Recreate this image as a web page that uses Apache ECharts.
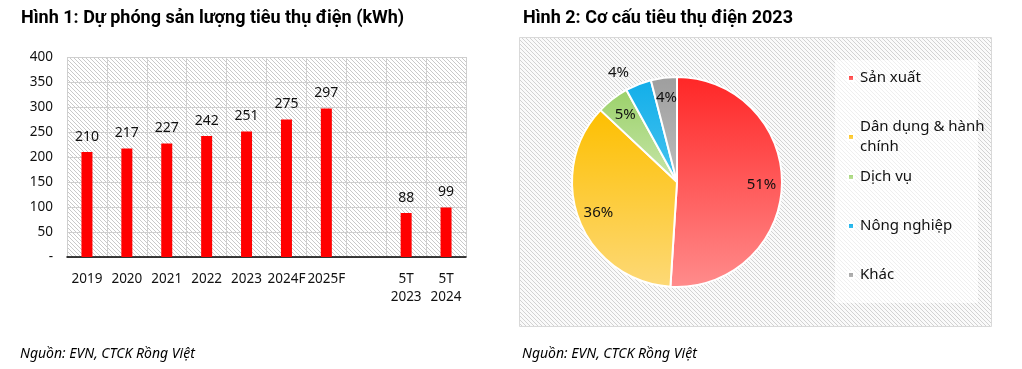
<!DOCTYPE html>
<html>
<head>
<meta charset="utf-8">
<script src="https://cdn.jsdelivr.net/npm/echarts@6/dist/echarts.min.js"></script>
<style>
html,body{margin:0;padding:0;background:#fff;}
#main{width:1022px;height:369px;}
</style>
</head>
<body>
<div id="main"></div>
<script>
// ---- Data ----
const barCategories = ['2019', '2020', '2021', '2022', '2023', '2024F', '2025F', '', '5T\n2023', '5T\n2024'];
const barValues = [210, 217, 227, 242, 251, 275, 297, null, 88, 99];
const yTicks = [0, 50, 100, 150, 200, 250, 300, 350, 400];

const pieNames = ['Sản xuất', 'Dân dụng & hành chính', 'Dịch vụ', 'Nông nghiệp', 'Khác'];
const pieValues = [51, 36, 5, 4, 4];

const title1 = 'Hình 1: Dự phóng sản lượng tiêu thụ điện (kWh)';
const title2 = 'Hình 2: Cơ cấu tiêu thụ điện 2023';
const sourceText = 'Nguồn: EVN, CTCK Rồng Việt';

// ---- Styles ----
function hatch(bg, line, step) {
  const c = document.createElement('canvas');
  c.width = step; c.height = step;
  const ctx = c.getContext('2d');
  ctx.fillStyle = bg; ctx.fillRect(0, 0, step, step);
  ctx.fillStyle = line;
  for (let i = 0; i < step; i++) ctx.fillRect(i, i, 1, 1);
  return { image: c, repeat: 'repeat' };
}
const hatchPlot = hatch('#ffffff', '#c9c9c9', 4);
const hatchPie = hatch('#fafafa', '#d2d2d2', 4);
const hatchLegend = hatch('#ffffff', '#efefef', 4);

const grad = (a, b) => new echarts.graphic.LinearGradient(0, 0, 0, 1, [{offset: 0, color: a}, {offset: 1, color: b}]);
const pieFills = [
  grad('#ff2626', '#ff8c8c'),
  grad('#fdbf00', '#fdd977'),
  grad('#9bd16a', '#c8e6aa'),
  grad('#12aee9', '#47c4f0'),
  grad('#9e9e9e', '#bdbdbd')
];
const legendColors = ['#f25c5c', '#f7cd48', '#a4d37a', '#27b7ec', '#ababab'];

const FONT = '"Noto Sans", "Open Sans", sans-serif';
const TXT = '#111111';

const chart = echarts.init(document.getElementById('main'), null, {renderer: 'canvas'});

const legendTops = [63, 112, 162, 211, 260];
const legends = pieNames.map((n, i) => ({
  data: [n],
  left: 842,
  top: legendTops[i],
  orient: 'vertical',
  icon: 'rect',
  itemWidth: 6,
  itemHeight: 6,
  itemGap: 0,
  selectedMode: false,
  formatter: nm => nm === 'Dân dụng & hành chính' ? 'Dân dụng & hành\nchính' : nm,
  textStyle: {fontFamily: FONT, fontSize: 15, color: TXT, lineHeight: 20, padding: [0, 0, 0, 1],
    verticalAlign: 'top'}
}));

const option = {
  backgroundColor: '#ffffff',
  animation: false,
  title: [
    {text: title1, left: 16, top: 4, textStyle: {fontFamily: '"Roboto", sans-serif', fontWeight: 'bold', fontSize: 18, color: '#000'}},
    {text: title2, left: 518, top: 4, textStyle: {fontFamily: '"Roboto", sans-serif', fontWeight: 'bold', fontSize: 18, color: '#000'}},
    {text: sourceText, left: 15, top: 342, textStyle: {fontFamily: FONT, fontStyle: 'italic', fontWeight: 'normal', fontSize: 14, color: '#000'}},
    {text: sourceText, left: 517, top: 342, textStyle: {fontFamily: FONT, fontStyle: 'italic', fontWeight: 'normal', fontSize: 14, color: '#000'}}
  ],
  graphic: [
    {type: 'rect', shape: {x: 519.5, y: 37.5, width: 472, height: 289}, style: {fill: hatchPie, stroke: '#d9d9d9', lineWidth: 1}, z: -10, silent: true},
    {type: 'rect', shape: {x: 835, y: 60, width: 143, height: 243}, style: {fill: hatchLegend}, z: -9, silent: true}
  ],
  legend: legends,
  grid: {left: 67, right: 556, top: 57, bottom: 112, show: true, backgroundColor: hatchPlot, borderWidth: 0},
  xAxis: {
    type: 'category',
    data: barCategories,
    axisLine: {show: true, lineStyle: {color: '#000', width: 1.5}},
    axisTick: {show: false},
    splitLine: {show: true, interval: 0, lineStyle: {color: '#cfcfcf', width: 1}},
    axisLabel: {interval: 0, margin: 13, fontFamily: FONT, fontSize: 13.5, color: TXT, lineHeight: 18}
  },
  yAxis: {
    type: 'value',
    min: yTicks[0],
    max: yTicks[yTicks.length - 1],
    interval: 50,
    axisLine: {show: false},
    axisTick: {show: false},
    splitLine: {show: true, lineStyle: {color: '#cfcfcf', width: 1}},
    axisLabel: {margin: 14, fontFamily: FONT, fontSize: 13.5, color: TXT, formatter: v => v === 0 ? '-' : String(v)}
  },
  series: [
    {
      type: 'bar',
      data: barValues,
      barWidth: 11,
      itemStyle: {color: '#ff0000'},
      label: {show: true, position: 'top', distance: 8, fontFamily: FONT, fontSize: 14, color: TXT}
    },
    {
      type: 'pie',
      name: 'pie',
      center: [677, 182],
      radius: [0, 105],
      startAngle: 90,
      clockwise: true,
      data: pieNames.map((n, i) => ({name: n, value: pieValues[i], itemStyle: {color: pieFills[i]}})),
      itemStyle: {borderColor: '#ffffff', borderWidth: 2},
      label: {show: false},
      labelLine: {show: false},
      emphasis: {disabled: true}
    },
    {
      type: 'pie',
      name: 'pieLabels',
      center: [677, 182],
      radius: [58, 105],
      startAngle: 90,
      clockwise: true,
      silent: true,
      z: 3,
      data: pieNames.map((n, i) => ({
        name: n, value: pieValues[i],
        itemStyle: {color: 'rgba(0,0,0,0)', borderWidth: 0},
        label: i === 3 ? {position: 'outside', distance: 2} : {position: 'inside'},
        labelLine: i === 3 ? {show: false, length: 12, length2: 0} : {show: false}
      })),
      label: {show: true, formatter: p => p.value + '%', fontFamily: FONT, fontSize: 15, color: TXT},
      labelLine: {show: false},
      avoidLabelOverlap: false,
      emphasis: {disabled: true},
      legendHoverLink: false
    }
  ]
};
chart.setOption(option);
</script>
</body>
</html>
